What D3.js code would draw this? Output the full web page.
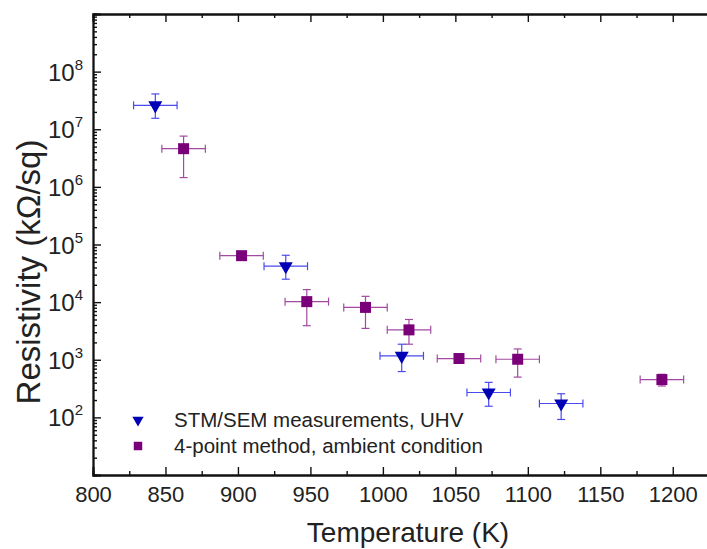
<!DOCTYPE html>
<html>
<head>
<meta charset="utf-8">
<script src="https://cdn.jsdelivr.net/npm/d3@7"></script>
<style>
    body { margin: 0; background: #ffffff; }
    text { font-family: "Liberation Sans", Arial, sans-serif; }
</style>
</head>
<body>
<svg id="grafico"></svg>
<script>
// STM/SEM measurements, UHV (triangles)
const stmTemp = [843, 933, 1013, 1073, 1123];
const stmRes = [2.6e7, 4.2e4, 1.17e3, 270, 174];
const stmLow = [1.55e7, 2.5e4, 624, 156, 92];
const stmHigh = [4.1e7, 6.5e4, 1.86e3, 405, 257];
const stmTempErr = [15, 15, 15, 15, 15];

// 4-point method, ambient condition (squares)
const sqTemp = [862.5, 902.5, 947.5, 988, 1018, 1052.5, 1093, 1192.5];
const sqRes = [4.6e6, 6.4e4, 1.02e4, 8.1e3, 3.3e3, 1.05e3, 1.02e3, 453];
const sqLow = [1.45e6, 5.8e4, 3.9e3, 3.5e3, 1.86e3, 980, 500, 350];
const sqHigh = [7.6e6, 7.0e4, 1.65e4, 1.26e4, 5.0e3, 1.12e3, 1.54e3, 560];
const sqTempErr = [15, 15, 15, 15, 15, 15, 15, 15];

const xTicks = [800, 850, 900, 950, 1000, 1050, 1100, 1150, 1200];
const yDecades = [2, 3, 4, 5, 6, 7, 8];
const legendLabels = ['STM/SEM measurements, UHV', '4-point method, ambient condition'];

const ancho = 707;
const alto = 549;
const izq = 93, der = 709, arriba = 14, abajo = 475;

const svg = d3.select('#grafico').attr('width', ancho).attr('height', alto);

const escalaX = d3.scaleLinear().domain([800, 1225]).range([izq, der]);
const escalaY = d3.scaleLog().domain([10, 1e9]).range([abajo, arriba]);

const colorAzul = '#0000b4';
const colorAzulErr = '#4a4af0';
const colorMorado = '#7a007a';
const colorMoradoErr = '#a24aa2';

// minor ticks
let xMinor = [];
for (let t = 800; t <= 1225; t += 25) {
    if (t % 50 !== 0) xMinor.push(t);
}
let yMinor = [];
for (let e = 1; e < 9; e++) {
    for (let m = 2; m <= 9; m++) yMinor.push(m * Math.pow(10, e));
}

function ejeGrupo (eje, tx, ty) {
    return svg.append('g')
        .attr('transform', 'translate(' + tx + ',' + ty + ')')
        .call(eje);
}

// bottom axis
let ejeAbajo = ejeGrupo(d3.axisBottom(escalaX).tickValues(xTicks).tickSize(-8).tickPadding(11)
    .tickFormat(d3.format('d')), 0, abajo);
ejeAbajo.selectAll('text').style('font-size', '22px').attr('fill', '#222');
ejeGrupo(d3.axisBottom(escalaX).tickValues(xMinor).tickSize(-4).tickFormat(''), 0, abajo);

// top axis
ejeGrupo(d3.axisTop(escalaX).tickValues(xTicks).tickSize(-8).tickFormat(''), 0, arriba);
ejeGrupo(d3.axisTop(escalaX).tickValues(xMinor).tickSize(-4).tickFormat(''), 0, arriba);

// left axis
ejeGrupo(d3.axisLeft(escalaY)
    .tickValues(yDecades.map(function (e) { return Math.pow(10, e); }))
    .tickSize(-8).tickFormat(''), izq, 0);
ejeGrupo(d3.axisLeft(escalaY).tickValues(yMinor).tickSize(-4).tickFormat(''), izq, 0);

svg.selectAll('.domain').attr('stroke', '#111').attr('stroke-width', 1.8);
svg.selectAll('.tick line').attr('stroke', '#111').attr('stroke-width', 1.4);

// y tick labels 10^n
yDecades.forEach(function (e) {
    let lbl = svg.append('text')
        .attr('x', izq - 10)
        .attr('y', escalaY(Math.pow(10, e)) + 9)
        .attr('text-anchor', 'end')
        .attr('fill', '#222')
        .style('font-size', '24px');
    lbl.append('tspan').text('10');
    lbl.append('tspan').attr('dy', -11).style('font-size', '15px').text(e);
});

// axis titles
svg.append('text')
    .attr('x', 408)
    .attr('y', 542)
    .attr('text-anchor', 'middle')
    .attr('fill', '#222')
    .style('font-size', '28px')
    .text('Temperature (K)');

svg.append('text')
    .attr('transform', 'translate(40,272) rotate(-90)')
    .attr('text-anchor', 'middle')
    .attr('fill', '#222')
    .style('font-size', '33px')
    .text('Resistivity (kΩ/sq)');

// error bars
function barras (temps, vals, lows, highs, terr, color) {
    let g = svg.append('g').attr('stroke', color).attr('stroke-width', 1.2).attr('fill', 'none');
    for (let i = 0; i < temps.length; i++) {
        let cx = escalaX(temps[i]);
        let cy = escalaY(vals[i]);
        let x1 = escalaX(temps[i] - terr[i]);
        let x2 = escalaX(temps[i] + terr[i]);
        let y1 = escalaY(highs[i]);
        let y2 = escalaY(lows[i]);
        g.append('line').attr('x1', x1).attr('x2', x2).attr('y1', cy).attr('y2', cy);
        g.append('line').attr('x1', x1).attr('x2', x1).attr('y1', cy - 4).attr('y2', cy + 4);
        g.append('line').attr('x1', x2).attr('x2', x2).attr('y1', cy - 4).attr('y2', cy + 4);
        g.append('line').attr('x1', cx).attr('x2', cx).attr('y1', y1).attr('y2', y2);
        g.append('line').attr('x1', cx - 4).attr('x2', cx + 4).attr('y1', y1).attr('y2', y1);
        g.append('line').attr('x1', cx - 4).attr('x2', cx + 4).attr('y1', y2).attr('y2', y2);
    }
}
barras(sqTemp, sqRes, sqLow, sqHigh, sqTempErr, colorMoradoErr);
barras(stmTemp, stmRes, stmLow, stmHigh, stmTempErr, colorAzulErr);

// markers
const triangulo = d3.symbol().type(d3.symbolTriangle).size(85);
const cuadrado = d3.symbol().type(d3.symbolSquare).size(121);

svg.selectAll('.sq')
    .data(sqRes).enter()
    .append('path')
    .attr('class', 'sq')
    .attr('d', cuadrado)
    .attr('transform', function (d, i) {
        return 'translate(' + escalaX(sqTemp[i]) + ',' + escalaY(d) + ')';
    })
    .attr('fill', colorMorado);

svg.selectAll('.tri')
    .data(stmRes).enter()
    .append('path')
    .attr('class', 'tri')
    .attr('d', triangulo)
    .attr('transform', function (d, i) {
        return 'translate(' + escalaX(stmTemp[i]) + ',' + escalaY(d) + ') rotate(180)';
    })
    .attr('fill', colorAzul);

// legend
svg.append('path')
    .attr('d', d3.symbol().type(d3.symbolTriangle).size(55))
    .attr('transform', 'translate(138,420) rotate(180)')
    .attr('fill', colorAzul);
svg.append('path')
    .attr('d', d3.symbol().type(d3.symbolSquare).size(72))
    .attr('transform', 'translate(138,446)')
    .attr('fill', colorMorado);
svg.selectAll('.leyenda')
    .data(legendLabels).enter()
    .append('text')
    .attr('class', 'leyenda')
    .attr('x', 174)
    .attr('y', function (d, i) { return 427 + i * 26; })
    .attr('fill', '#222')
    .style('font-size', '20.5px')
    .text(function (d) { return d; });
</script>
</body>
</html>
